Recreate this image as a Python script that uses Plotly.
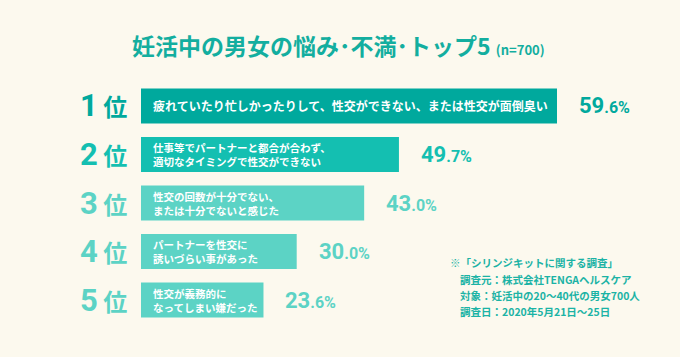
import plotly.graph_objects as go

# ---- data ----
rank_nums = ["1", "2", "3", "4", "5"]
ranks = ["1位", "2位", "3位", "4位", "5位"]
answers = [
    "疲れていたり忙しかったりして、性交ができない、または性交が面倒臭い",
    "仕事等でパートナーと都合が合わず、<br>適切なタイミングで性交ができない",
    "性交の回数が十分でない、<br>または十分でないと感じた",
    "パートナーを性交に<br>誘いづらい事があった",
    "性交が義務的に<br>なってしまい嫌だった",
]
values = [59.6, 49.7, 43.0, 30.0, 23.6]
title_text = "妊活中の男女の悩み･不満･トップ5"
sample_text = "(n=700)"
notes = [
    "※「シリンジキットに関する調査」",
    "調査元：株式会社TENGAヘルスケア",
    "対象：妊活中の20～40代の男女700人",
    "調査日：2020年5月21日～25日",
]

# ---- style ----
W, H = 680, 357
BG = "#FCF9EE"
colors = ["#00A99D", "#14BFB1", "#5CD3C5", "#5CD3C5", "#5CD3C5"]
TITLE_C = "#13AE9F"
NOTE_C = "#1BB3A5"
JP = "Noto Sans CJK JP"
NUM = "Roboto"

x0_px = 141
plot_w = W - x0_px
px_per_unit = 5.19          # scale used for ranks 2-5
top_bar_px = 416            # the top bar is drawn on its own, stretched scale
y_top_px, y_bot_px = 81.75, 324.25

fig = go.Figure()
# rank 1 on its own (stretched) axis, as in the original infographic
fig.add_trace(go.Bar(
    x=values[:1], y=ranks[:1], orientation="h", xaxis="x2", yaxis="y",
    marker=dict(color=colors[:1], line=dict(width=0)), hoverinfo="skip",
))
fig.add_trace(go.Bar(
    x=values[1:], y=ranks[1:], orientation="h", xaxis="x", yaxis="y",
    marker=dict(color=colors[1:], line=dict(width=0)), hoverinfo="skip",
))

ann = []
for i, (r, n, a, v, c) in enumerate(zip(ranks, rank_nums, answers, values, colors)):
    xr = "x2" if i == 0 else "x"
    # rank label
    ann.append(dict(
        xref="paper", yref="y", x=103.5 / W, y=r, xanchor="center", yanchor="middle",
        text=f"<span style='font-family:{NUM};font-size:31px'>{n}</span> 位",
        font=dict(family=JP, size=24, color=c, weight="bold"), showarrow=False,
    ))
    # text inside bar
    ann.append(dict(
        xref=xr, yref="y", x=0, y=r, xanchor="left", yanchor="middle", xshift=10,
        align="left", text=a,
        font=dict(family=JP, size=12 if i == 0 else 10.5, color="white", weight="bold"),
        showarrow=False,
    ))
    # percentage
    ip, dp = f"{v:.1f}".split(".")
    ann.append(dict(
        xref=xr, yref="y", x=v, y=r, xanchor="left", yanchor="middle", xshift=20,
        text=f"{ip}<span style='font-size:16px'>.{dp}%</span>",
        font=dict(family=NUM, size=22, color=c, weight="bold"), showarrow=False,
    ))

ann.append(dict(
    xref="paper", yref="paper", x=338 / W, y=1 - 45 / H, xanchor="center", yanchor="middle",
    text=f"{title_text} <span style='font-size:13px'>{sample_text}</span>",
    font=dict(family=JP, size=23, color=TITLE_C, weight="bold"), showarrow=False,
))
note_pos = [(448, 262), (458, 279), (458, 295), (458, 311)]
for t, (nx, ny) in zip(notes, note_pos):
    ann.append(dict(
        xref="paper", yref="paper", x=nx / W, y=1 - ny / H, xanchor="left", yanchor="middle",
        text=t, font=dict(family=JP, size=10.5, color=NOTE_C, weight="bold"), showarrow=False,
    ))

axis_common = dict(showgrid=False, zeroline=False, showticklabels=False, showline=False,
                   fixedrange=True)
fig.update_layout(
    width=W, height=H, paper_bgcolor=BG, plot_bgcolor=BG,
    margin=dict(l=0, r=0, t=0, b=0), showlegend=False, barmode="overlay", bargap=0.28,
    xaxis=dict(domain=[x0_px / W, 1], range=[0, plot_w / px_per_unit], **axis_common),
    xaxis2=dict(domain=[x0_px / W, 1], overlaying="x", anchor="y",
                range=[0, values[0] * plot_w / top_bar_px], **axis_common),
    yaxis=dict(domain=[1 - y_bot_px / H, 1 - y_top_px / H], type="category",
               categoryorder="array", categoryarray=ranks, range=[4.5, -0.5], **axis_common),
    annotations=ann,
    font=dict(family=JP),
)
fig.write_html(
    "out.html",
    config={"displayModeBar": False},
    post_script="document.body.style.margin='0';document.body.style.overflow='hidden';",
)
